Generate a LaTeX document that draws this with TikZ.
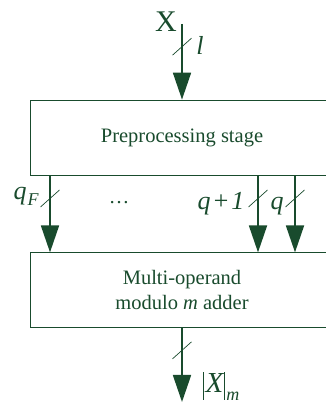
\documentclass[tikz,border=0pt]{standalone}
\usepackage{fontspec}
\setmainfont{Liberation Serif}
\usetikzlibrary{arrows.meta, positioning, decorations.markings, calc}
\definecolor{dkgreen}{RGB}{25,75,45}
\newcommand{\lowsub}[2]{\raisebox{-#1}{\fontsize{18}{18}\selectfont #2}}
\newcommand{\absbar}{\rule[-7pt]{0.9pt}{28pt}}

\begin{document}
\begin{tikzpicture}[x=1pt, y=1pt, font=\fontsize{20.5}{25}\selectfont,
    color=dkgreen, text=dkgreen, node distance=77pt,
    blk/.style={draw, line width=0.8pt, minimum width=304pt, minimum height=75pt,
      align=center, inner sep=0pt},
    bus/.style={line width=1.8pt, -{Triangle[length=27pt, width=18pt]},
      postaction={decorate},
      decoration={markings, mark=at position 0.3 with
        {\draw[line width=0.7pt, -] (8.5,-9.5) -- (-8.5,9.5);}}},
    lbl/.style={font=\fontsize{26}{30}\selectfont\itshape, inner sep=0pt}]
    \clip (0,0) rectangle (326,410);

    \node[blk] (prep) at (182,272.5) {Preprocessing stage};
    \node[blk, below=of prep] (adder) {Multi-operand\\modulo \textit{m} adder};

    % input bus
    \coordinate (in) at (182,386);
    \node[inner sep=0pt, font=\fontsize{30}{30}\selectfont] (xin) at (166,388) {X};
    \draw[bus] (in) -- (prep);
    \node[lbl] (lw) at (200,365) {l};

    % residue buses
    \coordinate (oF) at ([xshift=-132pt]prep.south);
    \coordinate (oA) at ([xshift=76pt]prep.south);
    \coordinate (oB) at ([xshift=113pt]prep.south);
    \draw[bus] (oF) -- (oF |- adder.north);
    \draw[bus] (oA) -- (oA |- adder.north);
    \draw[bus] (oB) -- (oB |- adder.north);
    \node[lbl, anchor=base] (qF) at (26,210) {q\kern1pt\lowsub{6pt}{F}};
    \node[inner sep=0pt, anchor=base] (dots) at (119,206) {\dots};
    \node[lbl, anchor=base] (qA) at (221,200) {q\kern1.5pt+\kern1.5pt1};
    \node[lbl, anchor=base] (qB) at (277,200) {q};

    % output bus
    \coordinate (out) at (182,8);
    \draw[bus] (adder) -- (out);
    \node[lbl, anchor=base, font=\fontsize{29}{30}\selectfont\itshape] (res) at (221,17)
      {\absbar\kern2pt X\kern1pt\absbar\kern1pt\lowsub{8pt}{m}};
  \end{tikzpicture}
\end{document}
